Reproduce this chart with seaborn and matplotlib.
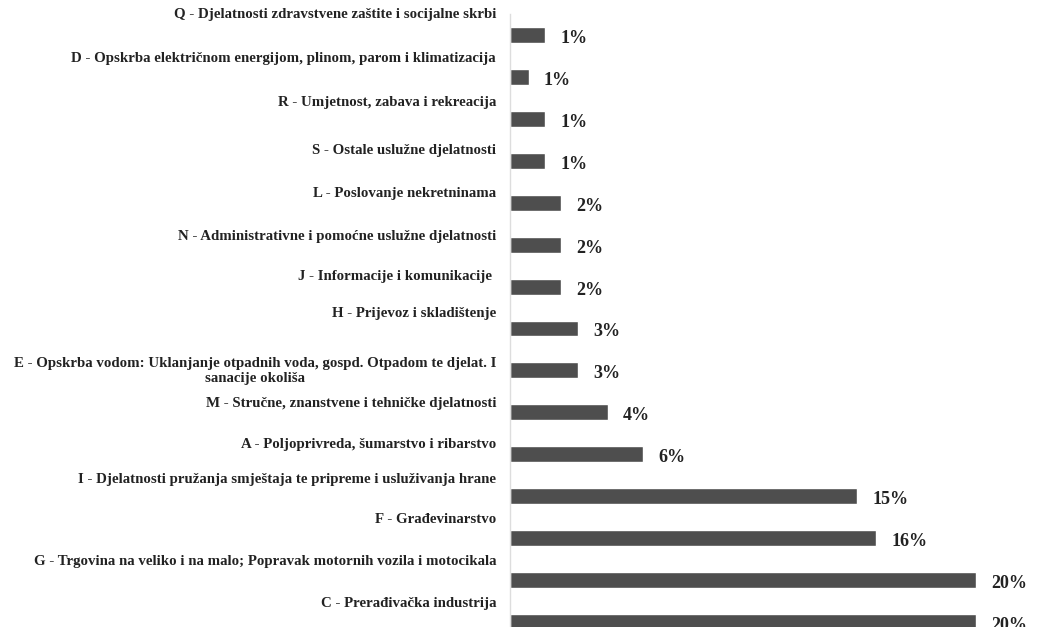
import matplotlib
matplotlib.use("Agg")
import matplotlib.pyplot as plt
import matplotlib.transforms as mtransforms
import seaborn as sns
import pandas as pd

categories = [
    "Q - Djelatnosti zdravstvene zaštite i socijalne skrbi",
    "D - Opskrba električnom energijom, plinom, parom i klimatizacija",
    "R - Umjetnost, zabava i rekreacija",
    "S - Ostale uslužne djelatnosti",
    "L - Poslovanje nekretninama",
    "N - Administrativne i pomoćne uslužne djelatnosti",
    "J - Informacije i komunikacije ",
    "H - Prijevoz i skladištenje",
    "E - Opskrba vodom: Uklanjanje otpadnih voda, gospd. Otpadom te djelat. I\nsanacije okoliša",
    "M - Stručne, znanstvene i tehničke djelatnosti",
    "A - Poljoprivreda, šumarstvo i ribarstvo",
    "I - Djelatnosti pružanja smještaja te pripreme i usluživanja hrane",
    "F - Građevinarstvo",
    "G - Trgovina na veliko i na malo; Popravak motornih vozila i motocikala",
    "C - Prerađivačka industrija",
]
values = [1.5, 0.8, 1.5, 1.5, 2.2, 2.2, 2.2, 2.9, 2.9, 4.2, 5.7, 14.9, 15.7, 20.0, 20.0]
value_labels = ["1%", "1%", "1%", "1%", "2%", "2%", "2%", "3%", "3%", "4%", "6%", "15%", "16%", "20%", "20%"]

# layout only: how far (px) each category label sits above its bar
label_lift_px = [22, 20, 18, 12, 11, 10, 12, 17, 2, 10, 11, 18, 20, 20, 20]

df = pd.DataFrame({"category": categories, "value": values})

sns.set_theme(style="white")
plt.rcParams["font.family"] = ["Liberation Serif", "DejaVu Serif"]

W, H = 1038, 627
fig = plt.figure(figsize=(W / 100, H / 100), dpi=100)
top_px, bot_px = 14, 643
left_px, right_px = 510, 510 + 22 * 23.3
ax = fig.add_axes([left_px / W, 1 - bot_px / H, (right_px - left_px) / W, (bot_px - top_px) / H])

sns.barplot(data=df, x="value", y="category", orient="h", color="#4e4e4e",
            width=0.38, saturation=1, ax=ax)

ax.set_xlim(0, 22)
ax.set_ylim(len(categories) - 0.5, -0.5)
ax.set_xlabel("")
ax.set_ylabel("")
ax.set_xticks([])
for s in ["top", "right", "bottom"]:
    ax.spines[s].set_visible(False)
ax.spines["left"].set_color("#dddddd")
ax.spines["left"].set_linewidth(1.0)

ax.tick_params(axis="y", length=0, pad=10)
for lab, lift in zip(ax.get_yticklabels(), label_lift_px):
    lab.set_fontsize(10.7)
    lab.set_fontweight("bold")
    lab.set_color("#222222")
    lab.set_multialignment("center")
    off = mtransforms.ScaledTranslation(0, lift / 100, fig.dpi_scale_trans)
    lab.set_transform(lab.get_transform() + off)

for i, (v, t) in enumerate(zip(values, value_labels)):
    ax.annotate(t, xy=(v, i), xytext=(11, -2.5), textcoords="offset points",
                ha="left", va="center", fontsize=13, fontweight="bold", color="#222222")

fig.savefig("out.png", dpi=100)
